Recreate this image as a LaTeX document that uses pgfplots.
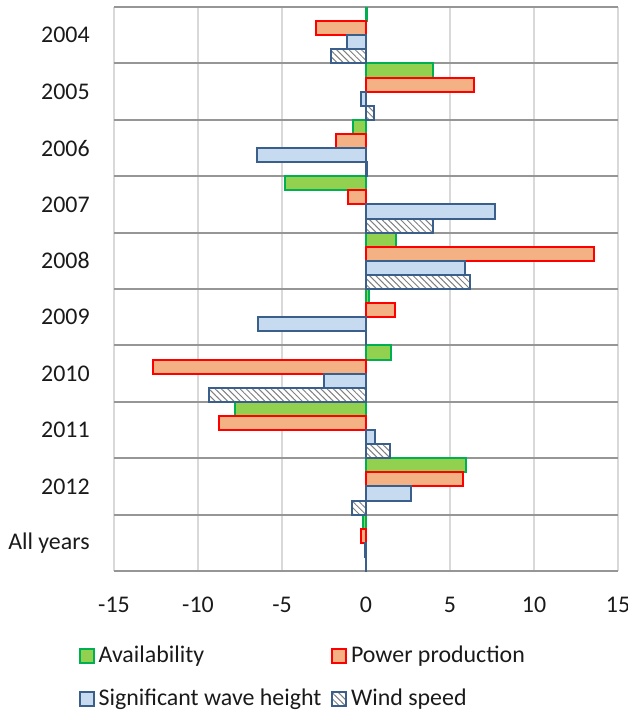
\documentclass[border=0pt]{standalone}
\usepackage{fontspec}
\setmainfont{Carlito}
\usepackage{pgfplots}
\usepackage{pgfplotstable}
\pgfplotsset{compat=1.18}
\usetikzlibrary{patterns.meta}
\definecolor{availF}{HTML}{92D050}
\definecolor{availE}{HTML}{00B050}
\definecolor{powF}{HTML}{F4B183}
\definecolor{powE}{HTML}{FF0000}
\definecolor{waveF}{HTML}{C6DBF0}
\definecolor{blueE}{HTML}{3A5F8B}
\definecolor{gridL}{HTML}{D9D9D9}
\definecolor{gridD}{HTML}{969696}
\definecolor{txt}{HTML}{1A1A1A}
\pgfplotstableread{
y avail power wave wind
0 0.08 -3.0 -1.15 -2.1
1 4.0 6.45 -0.3 0.5
2 -0.8 -1.8 -6.5 0.05
3 -4.85 -1.05 7.65 4.0
4 1.8 13.55 5.9 6.2
5 0.15 1.75 -6.4 0.0
6 1.5 -12.7 -2.5 -9.35
7 -7.8 -8.75 0.55 1.45
8 5.95 5.75 2.7 -0.85
9 -0.2 -0.3 -0.03 -0.02
}\data
\begin{document}
\fontsize{12}{14.4}\selectfont
\begin{tikzpicture}
\begin{axis}[
 scale only axis, width=252bp, height=282bp,
 at={(0,0)}, anchor=south west,
 xbar, bar width=0.25,
 xmin=-15, xmax=15, ymin=-0.5, ymax=9.5, y dir=reverse,
 xtick={-15,-10,...,15}, xticklabels={-15,-10,-5,0,5,10,15},
 ytick={0,...,9}, yticklabels={2004,2005,2006,2007,2008,2009,2010,2011,2012,All years},
 minor ytick={-0.5,0.5,...,9.5},
 xmajorgrids, ymajorgrids=false, yminorgrids,
 major grid style={gridL, line width=0.75bp},
 minor grid style={gridD, line width=1bp},
 axis line style={draw=none},
 major tick length=0pt, minor tick length=0pt,
 tick label style={font=\fontsize{12}{14.4}\selectfont, text=txt},
 x tick label style={yshift=-9bp},
 y tick label style={xshift=-8bp},
 legend columns=2,
 legend cell align=left,
 legend style={at={(-0.082,-0.118)}, anchor=north west, draw=none, fill=none,
   font=\fontsize{12}{14.4}\selectfont, text=txt, row sep=7.5bp,
   /tikz/every even column/.append style={column sep=3bp}},
 legend image code/.code={\draw[#1] (0bp,-3.4bp) rectangle (6.8bp,3.4bp);},
]
\addplot[xbar, bar shift=-0.375, fill=availF, draw=availE, line width=1bp] table[x=avail,y=y]{\data};
\addlegendentry{Availability}
\addplot[xbar, bar shift=-0.125, fill=powF, draw=powE, line width=1bp] table[x=power,y=y]{\data};
\addlegendentry{Power production}
\addplot[xbar, bar shift=0.125, fill=waveF, draw=blueE, line width=1bp] table[x=wave,y=y]{\data};
\addlegendentry{Significant wave height}
\addplot[xbar, bar shift=0.375, fill=white, draw=blueE, line width=1bp,
  postaction={pattern={Lines[angle=-45,distance=2.2bp,line width=0.5bp]}, pattern color=gray}] table[x=wind,y=y]{\data};
\addlegendentry{Wind speed}
\end{axis}
\pgfresetboundingbox
\path (-57bp,-72bp) rectangle (257bp,285.5bp);
\end{tikzpicture}
\end{document}
